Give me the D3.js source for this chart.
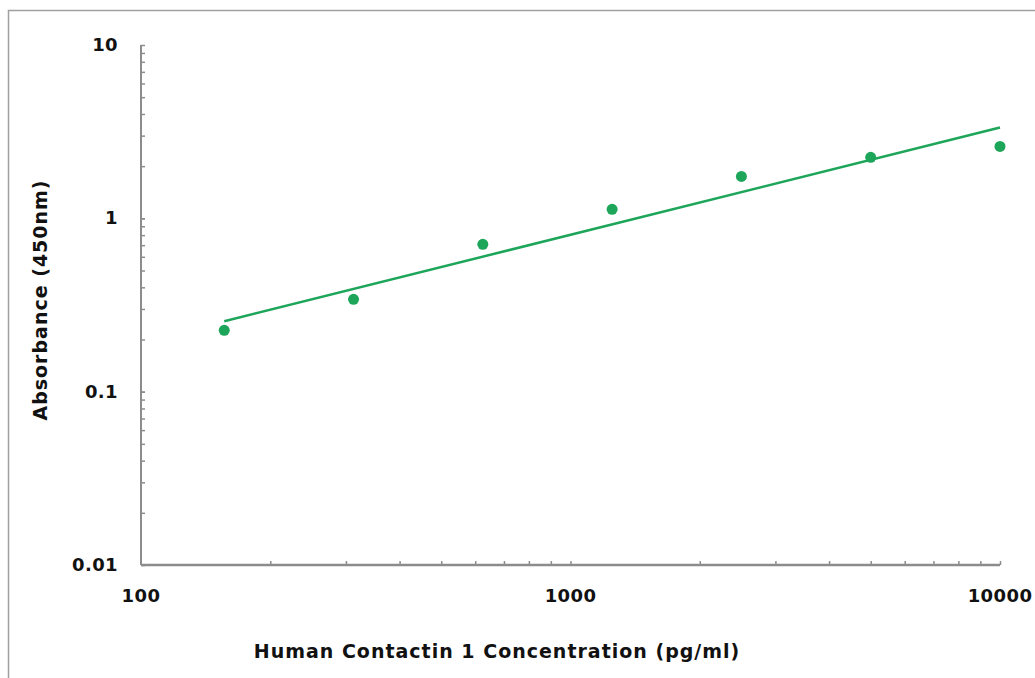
<!DOCTYPE html>
<html>
<head>
<meta charset="utf-8">
<script src="https://cdn.jsdelivr.net/npm/d3@7"></script>
<style>
  body { margin: 0; background: #fff; }
  text { font-family: "DejaVu Sans", Verdana, sans-serif; font-weight: bold; fill: #111; }
</style>
</head>
<body>
<div id="graph1"></div>
<script>
// standard curve values
var conc = [156.25, 312.5, 625, 1250, 2500, 5000, 10000];
var absorb = [0.226, 0.341, 0.708, 1.127, 1.746, 2.25, 2.6];
// power trendline, two ends (straight in log-log)
var trendX = [156.25, 10000];
var trendY = [0.255, 3.34];
var xTicks = [100, 1000, 10000];
var yTicks = [0.01, 0.1, 1, 10];

var width = 1035, height = 678;
var margin = {top: 45, right: 35, bottom: 113, left: 141};

var svg = d3.select("#graph1").append("svg")
  .attr("width", width)
  .attr("height", height);

// outer border
svg.append("rect")
  .attr("x", 8.5).attr("y", 10.5)
  .attr("width", width + 10).attr("height", height + 10)
  .attr("fill", "none")
  .attr("stroke", "#a0a0a0")
  .attr("stroke-width", 1.5);

var x = d3.scaleLog()
  .domain([100, 10000])
  .range([margin.left, width - margin.right]);

var y = d3.scaleLog()
  .domain([0.01, 10])
  .range([height - margin.bottom, margin.top]);

var axisColor = "#8c8c8c";

// minor ticks
var xMinor = [];
[100, 1000].forEach(function(d) { for (var k = 2; k <= 10; k++) xMinor.push(d * k); });
var yMinor = [];
[0.01, 0.1, 1].forEach(function(d) { for (var k = 1; k <= 10; k++) yMinor.push(d * k); });

var xaxis = svg.append("g")
  .attr("transform", "translate(0," + y(0.01) + ")")
  .call(d3.axisTop(x).tickValues(xMinor).tickSize(4).tickFormat(""));
xaxis.select(".domain").remove();
xaxis.selectAll("line").attr("stroke", axisColor).attr("stroke-width", 1.5);

var yaxis = svg.append("g")
  .attr("transform", "translate(" + x(100) + ",0)")
  .call(d3.axisRight(y).tickValues(yMinor).tickSize(4).tickFormat(""));
yaxis.select(".domain").remove();
yaxis.selectAll("line").attr("stroke", axisColor).attr("stroke-width", 1.5);

// axis lines
svg.append("line")
  .attr("x1", x(100)).attr("x2", x(10000))
  .attr("y1", y(0.01)).attr("y2", y(0.01))
  .attr("stroke", axisColor).attr("stroke-width", 2.5);
svg.append("line")
  .attr("x1", x(100)).attr("x2", x(100))
  .attr("y1", y(0.01)).attr("y2", y(10))
  .attr("stroke", axisColor).attr("stroke-width", 2);

// tick labels
svg.selectAll(".xlab").data(xTicks).enter().append("text")
  .attr("x", function(d) { return x(d); })
  .attr("y", y(0.01) + 37)
  .attr("text-anchor", "middle")
  .attr("font-size", 18)
  .attr("letter-spacing", 0.4)
  .text(function(d) { return d; });

svg.selectAll(".ylab").data(yTicks).enter().append("text")
  .attr("x", x(100) - 23)
  .attr("y", function(d) { return y(d) + 6; })
  .attr("text-anchor", "end")
  .attr("font-size", 18)
  .attr("letter-spacing", 0.4)
  .text(function(d) { return d; });

// trendline
var line = d3.line()
  .x(function(d, i) { return x(trendX[i]); })
  .y(function(d, i) { return y(trendY[i]); });

svg.append("path")
  .datum(trendX)
  .attr("fill", "none")
  .attr("stroke", "#1da55a")
  .attr("stroke-width", 2.5)
  .attr("d", line);

// points
svg.selectAll(".pt").data(conc).enter().append("circle")
  .attr("cx", function(d) { return x(d); })
  .attr("cy", function(d, i) { return y(absorb[i]); })
  .attr("r", 5.5)
  .attr("fill", "#1da55a");

// axis titles
svg.append("text")
  .attr("x", 497).attr("y", 658)
  .attr("text-anchor", "middle")
  .attr("font-size", 19)
  .attr("letter-spacing", 1)
  .text("Human Contactin 1 Concentration (pg/ml)");

svg.append("text")
  .attr("transform", "translate(47,300) rotate(-90)")
  .attr("text-anchor", "middle")
  .attr("font-size", 19)
  .attr("letter-spacing", 1)
  .text("Absorbance (450nm)");
</script>
</body>
</html>
